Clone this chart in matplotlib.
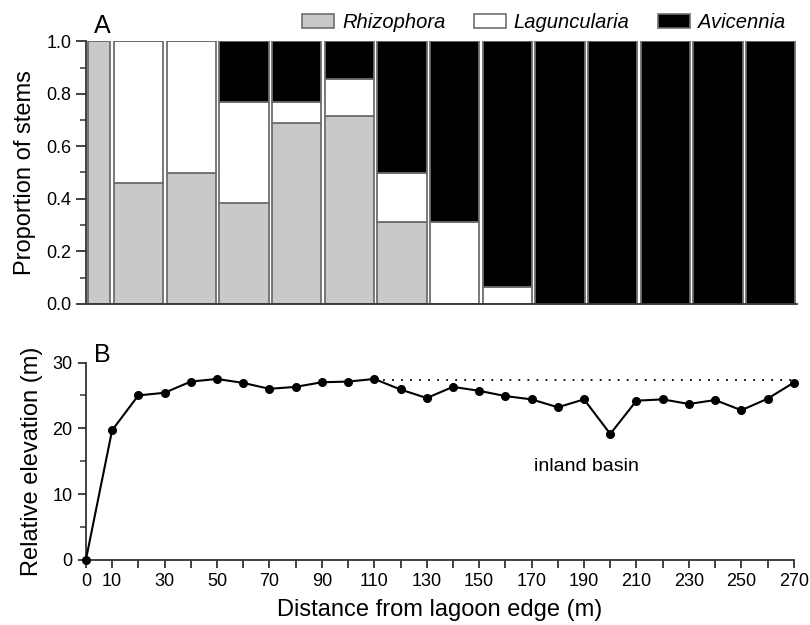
import numpy as np
import matplotlib.pyplot as plt
from matplotlib.patches import Patch
from matplotlib.ticker import MultipleLocator

plt.rcParams['font.family'] = ['Liberation Sans', 'DejaVu Sans']

# panel A: stem proportions per distance class
bin_left = [0, 10, 30, 50, 70, 90, 110, 130, 150, 170, 190, 210, 230, 250]
bin_right = [10, 30, 50, 70, 90, 110, 130, 150, 170, 190, 210, 230, 250, 270]
rhizophora = [1.0, 0.46, 0.50, 0.385, 0.69, 0.715, 0.31, 0, 0, 0, 0, 0, 0, 0]
laguncularia = [0, 0.54, 0.50, 0.385, 0.08, 0.14, 0.19, 0.31, 0.065, 0, 0, 0, 0, 0]
avicennia = [0, 0, 0, 0.23, 0.23, 0.145, 0.50, 0.69, 0.935, 1.0, 1.0, 1.0, 1.0, 1.0]

# panel B: elevation profile
distance = [0, 10, 20, 30, 40, 50, 60, 70, 80, 90, 100, 110, 120, 130, 140,
            150, 160, 170, 180, 190, 200, 210, 220, 230, 240, 250, 260, 270]
elevation = [0, 19.7, 25.0, 25.4, 27.1, 27.5, 26.9, 26.0, 26.3, 27.0, 27.1, 27.5,
             25.9, 24.6, 26.3, 25.7, 24.9, 24.4, 23.2, 24.4, 19.15, 24.2, 24.4,
             23.7, 24.3, 22.75, 24.5, 26.95]
ref_level = 27.4

fig = plt.figure(figsize=(8.1, 6.25), dpi=100)
axA = fig.add_axes([0.106, 0.514, 0.878, 0.420])
axB = fig.add_axes([0.106, 0.104, 0.874, 0.316])

edge = '#6e6e6e'
gray = '#c9c9c9'
left = np.array(bin_left, dtype=float)
width = np.array(bin_right) - left
gap = 1.3
r = np.array(rhizophora)
l = np.array(laguncularia)
a = np.array(avicennia)
kw = dict(align='edge', edgecolor=edge, linewidth=1.3)
axA.bar(left + gap / 2, r, width - gap, color=gray, **kw)
axA.bar(left + gap / 2, l, width - gap, bottom=r, color='white', **kw)
axA.bar(left + gap / 2, a, width - gap, bottom=r + l, color='black', **kw)

axA.set_xlim(0, 270)
axA.set_ylim(0, 1.0)
axA.yaxis.set_minor_locator(MultipleLocator(0.1))
axA.set_yticks([0, 0.2, 0.4, 0.6, 0.8, 1.0])
axA.set_yticklabels(['0.0', '0.2', '0.4', '0.6', '0.8', '1.0'])
axA.set_xticks([])
for s in ['top', 'right']:
    axA.spines[s].set_visible(False)
for s in ['left', 'bottom']:
    axA.spines[s].set_color('#333333')
    axA.spines[s].set_linewidth(1.3)
axA.tick_params(axis='y', which='major', length=7, width=1.3, color='#333333',
                labelsize=13)
axA.tick_params(axis='y', which='minor', length=4, width=1.1, color='#333333')
axA.set_ylabel('Proportion of stems', fontsize=17, labelpad=7)
axA.text(0.012, 1.03, 'A', transform=axA.transAxes, fontsize=18, va='baseline', ha='left')

handles = [Patch(facecolor=gray, edgecolor=edge, linewidth=1.2, label='Rhizophora'),
           Patch(facecolor='white', edgecolor=edge, linewidth=1.2, label='Laguncularia'),
           Patch(facecolor='black', edgecolor=edge, linewidth=1.2, label='Avicennia')]
leg = fig.legend(handles=handles, loc='upper right', bbox_to_anchor=(0.992, 1.008),
                 ncol=3, frameon=False, handlelength=1.6, handleheight=0.75,
                 handletextpad=0.4, columnspacing=1.4,
                 prop={'style': 'italic', 'size': 14.5})

# panel B
axB.plot(distance, elevation, color='black', linewidth=1.5, marker='o',
         markersize=5.5, clip_on=False, zorder=3)
axB.plot([110, 270], [ref_level, ref_level], color='black', linestyle=(0, (1, 4)),
         linewidth=1.3)
axB.text(191, 14.2, 'inland basin', fontsize=14, ha='center', va='center')
axB.set_xlim(0, 270)
axB.set_ylim(0, 30)
axB.set_xticks(range(0, 271, 10))
axB.set_xticklabels([str(v) if (v == 0 or v % 20 == 10) else '' for v in range(0, 271, 10)])
axB.yaxis.set_major_locator(MultipleLocator(10))
axB.yaxis.set_minor_locator(MultipleLocator(5))
for s in ['top', 'right']:
    axB.spines[s].set_visible(False)
for s in ['left', 'bottom']:
    axB.spines[s].set_color('#333333')
    axB.spines[s].set_linewidth(1.3)
axB.tick_params(which='major', length=6, width=1.3, color='#333333', labelsize=13)
axB.tick_params(which='minor', length=4, width=1.1, color='#333333')
axB.set_ylabel('Relative elevation (m)', fontsize=17, labelpad=7)
axB.set_xlabel('Distance from lagoon edge (m)', fontsize=17, labelpad=6)
axB.text(0.012, 1.0, 'B', transform=axB.transAxes, fontsize=18, va='baseline', ha='left')

fig.savefig('out.png', dpi=100)
